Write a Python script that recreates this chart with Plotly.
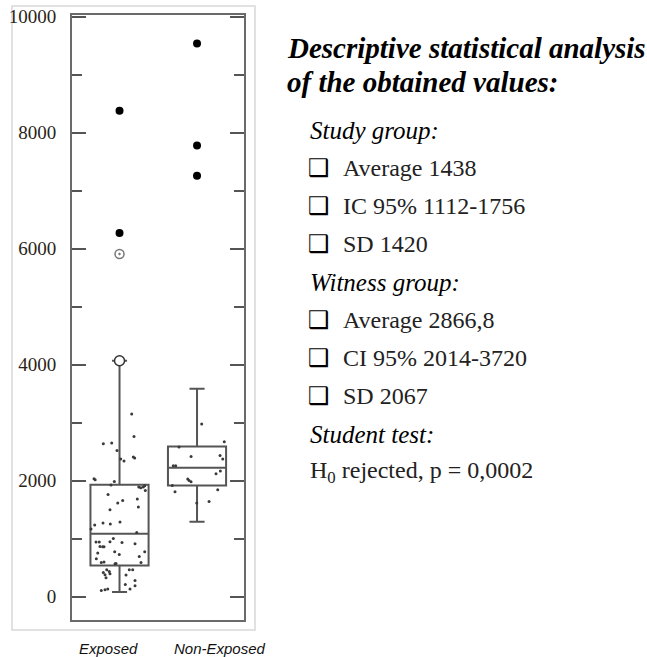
import plotly.graph_objects as go

# ---------------- data ----------------
categories = ["Exposed", "Non-Exposed"]
q1 = [540, 1919]
median = [1086, 2224]
q3 = [1931, 2591]
lower_whisker = [81, 1293]
upper_whisker = [4070, 3586]

exposed_values = [3150, 2764, 2638, 2650, 2522, 2374, 2340, 2409, 2391, 2034, 2017, 1988,
                  1926, 1891, 1879, 1891, 1914, 1833, 1764, 1660, 1616, 1684, 1500, 1547,
                  1236, 1271, 1253, 1288, 1167, 1109, 943, 943, 1005, 948, 936, 914, 867,
                  862, 862, 776, 729, 753, 776, 695, 655, 591, 598, 569, 574, 591, 466,
                  419, 379, 436, 397, 466, 466, 374, 328, 281, 190, 212, 109, 121, 133, 133]
exposed_jitter = [0.157, 0.187, -0.209, -0.101, -0.032, 0.015, 0.058, 0.178, 0.196, -0.329,
                  -0.314, -0.067, -0.110, 0.248, 0.274, 0.307, 0.325, 0.333, -0.148, 0.041,
                  -0.023, 0.230, -0.123, 0.243, -0.320, -0.213, -0.119, 0.006, -0.368, 0.222,
                  -0.303, -0.261, -0.080, -0.123, 0.032, 0.200, -0.252, -0.217, -0.200,
                  -0.062, -0.003, -0.281, 0.325, 0.255, -0.299, -0.235, -0.200, -0.058,
                  -0.045, 0.277, -0.165, -0.209, -0.187, -0.132, -0.123, 0.126, 0.170,
                  0.084, -0.174, 0.200, 0.200, 0.075, -0.235, -0.187, -0.152, 0.135]
nonexp_values = [2978, 2672, 2581, 2419, 2436, 2374, 2259, 2259, 2167, 2121, 2029, 2005,
                 1983, 1919, 1810, 1845, 1643, 1616]
nonexp_jitter = [0.060, 0.352, -0.232, -0.077, 0.297, 0.332, -0.306, -0.275, 0.301, 0.245,
                 -0.120, -0.103, -0.077, -0.319, -0.284, 0.267, 0.155, -0.004]

exposed_far = [8380, 6270]
nonexp_far = [9540, 7780, 7260]
exposed_near = [5910]
exposed_whisker_point = [4070]

y_ticks = [0, 2000, 4000, 6000, 8000, 10000]

title_lines = ["Descriptive statistical analysis", "of the obtained values:"]
study_head = "Study group:"
study_stats = ["Average 1438", "IC 95% 1112-1756", "SD 1420"]
witness_head = "Witness group:"
witness_stats = ["Average 2866,8", "CI 95% 2014-3720", "SD 2067"]
test_head = "Student test:"
test_result = "H<sub>0</sub> rejected, p = 0,0002"

# ---------------- layout helpers ----------------
W, H = 647, 657
L, R, T, B = 72, 244, 15, 620


def px(x):
    return (x - L) / (R - L)


def py(y):
    return (B - y) / (B - T)


BOXLINE = "#555555"
fig = go.Figure()

for i, name in enumerate(categories):
    fig.add_trace(go.Box(
        x=[i], q1=[q1[i]], median=[median[i]], q3=[q3[i]],
        lowerfence=[lower_whisker[i]], upperfence=[upper_whisker[i]],
        width=0.75, whiskerwidth=0.26, boxpoints=False,
        fillcolor="rgba(0,0,0,0)", line=dict(color=BOXLINE, width=2),
        name=name, showlegend=False, hoverinfo="skip"))

fig.add_trace(go.Scatter(
    x=[0 + j for j in exposed_jitter], y=exposed_values, mode="markers",
    marker=dict(size=3, color="#3a3a3a"), showlegend=False))
fig.add_trace(go.Scatter(
    x=[1 + j for j in nonexp_jitter], y=nonexp_values, mode="markers",
    marker=dict(size=3, color="#3a3a3a"), showlegend=False))

fig.add_trace(go.Scatter(
    x=[0] * len(exposed_far) + [1] * len(nonexp_far), y=exposed_far + nonexp_far,
    mode="markers", marker=dict(size=8, color="black"), showlegend=False))
fig.add_trace(go.Scatter(
    x=[0] * len(exposed_near), y=exposed_near, mode="markers",
    marker=dict(size=9, symbol="circle-open-dot", color="#777777", line=dict(width=1.5)),
    showlegend=False))
fig.add_trace(go.Scatter(
    x=[0] * len(exposed_whisker_point), y=exposed_whisker_point, mode="markers",
    marker=dict(size=10, color="white", line=dict(color="#333333", width=1.5)),
    showlegend=False))

fig.update_xaxes(range=[-0.613, 1.606], showticklabels=False, ticks="",
                 showline=True, mirror=True, linecolor="#6a6a6a", linewidth=2,
                 showgrid=False, zeroline=False, automargin=False)
fig.update_yaxes(range=[-400, 10030], tickmode="array", tickvals=y_ticks,
                 ticktext=[str(v) for v in y_ticks],
                 ticks="inside", ticklen=14, tickwidth=2, tickcolor="#555555",
                 minor=dict(dtick=1000, tick0=0, ticks="inside", ticklen=10,
                            tickwidth=2, tickcolor="#555555"),
                 showline=True, mirror="allticks", linecolor="#6a6a6a", linewidth=2,
                 showgrid=False, zeroline=False, automargin=False,
                 tickfont=dict(family="Liberation Serif", size=19, color="#2a2418"),
                 ticklabelstandoff=10)

ann = []
# x category labels below the panel
for xc, lab in zip([108, 220], categories):
    ann.append(dict(x=px(xc), y=py(648), xref="paper", yref="paper", text="<i>" + lab + "</i>",
                    showarrow=False, xanchor="center", yanchor="middle",
                    font=dict(family="Liberation Sans", size=15, color="#111111")))

SERIF = "Liberation Serif"
for yy, line in zip([48, 82], title_lines):
    ann.append(dict(x=px(285), y=py(yy), xref="paper", yref="paper",
                    text="<b><i>" + line + "</i></b>", showarrow=False,
                    xanchor="left", yanchor="middle",
                    font=dict(family=SERIF, size=29, color="#000000")))

rows = [("head", study_head)] + [("item", s) for s in study_stats] + \
       [("head", witness_head)] + [("item", s) for s in witness_stats] + \
       [("head", test_head), ("plain", test_result)]
for k, (kind, txt) in enumerate(rows):
    yy = 130 + k * 38.0
    if kind == "head":
        ann.append(dict(x=px(308), y=py(yy), xref="paper", yref="paper",
                        text="<i>" + txt + "</i>", showarrow=False,
                        xanchor="left", yanchor="middle",
                        font=dict(family=SERIF, size=25, color="#000000")))
    elif kind == "item":
        ann.append(dict(x=px(306), y=py(yy), xref="paper", yref="paper",
                        text="\u2751", showarrow=False, xanchor="left", yanchor="middle",
                        font=dict(family="DejaVu Sans", size=24, color="#000000")))
        ann.append(dict(x=px(341), y=py(yy), xref="paper", yref="paper",
                        text=txt, showarrow=False, xanchor="left", yanchor="middle",
                        font=dict(family=SERIF, size=24, color="#222222")))
    else:
        ann.append(dict(x=px(308), y=py(yy), xref="paper", yref="paper",
                        text=txt, showarrow=False, xanchor="left", yanchor="middle",
                        font=dict(family=SERIF, size=24, color="#222222")))

shapes = [dict(type="rect", xref="paper", yref="paper",
               x0=px(12), x1=px(255), y0=py(630), y1=py(6),
               line=dict(color="#d8d8d8", width=1.5), fillcolor="rgba(0,0,0,0)",
               layer="below")]

fig.update_layout(width=W, height=H, margin=dict(l=L, r=W - R, t=T, b=H - B),
                  paper_bgcolor="white", plot_bgcolor="white",
                  annotations=ann, shapes=shapes, showlegend=False)

fig.write_html("out.html")
